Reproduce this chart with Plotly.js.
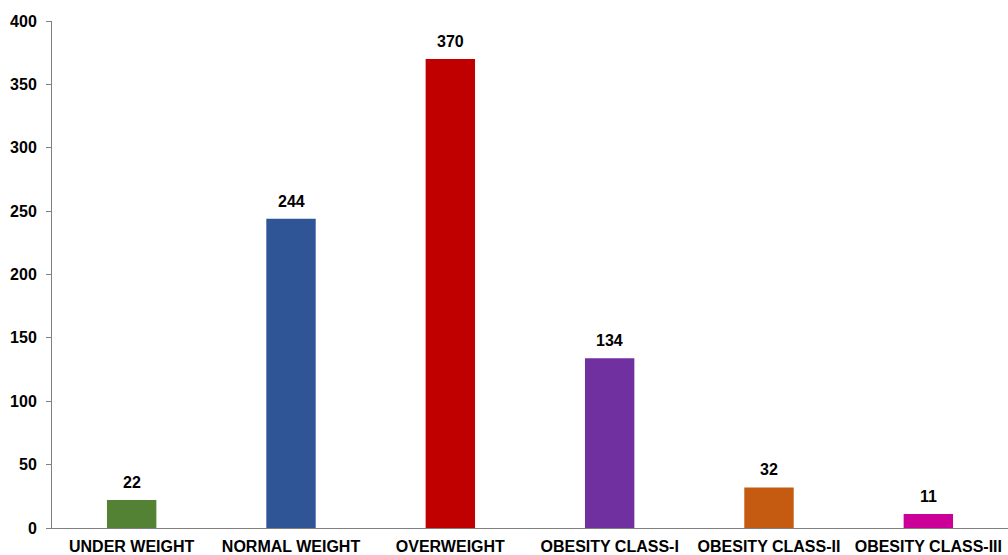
<!DOCTYPE html>
<html>
<head>
<meta charset="utf-8">
<script src="https://cdn.plot.ly/plotly-3.0.1.min.js"></script>
<style>
  html, body { margin: 0; padding: 0; background: #fff; }
  #chart { width: 1008px; height: 555px; }
</style>
</head>
<body>
<div id="chart"></div>
<script>
// BMI category counts
const categories = ["UNDER WEIGHT", "NORMAL WEIGHT", "OVERWEIGHT", "OBESITY CLASS-I", "OBESITY CLASS-II", "OBESITY CLASS-III"];
const counts = [22, 244, 370, 134, 32, 11];
const barColors = ["#548235", "#2F5597", "#C00000", "#7030A0", "#C55A11", "#CC0099"];
const yTicks = [0, 50, 100, 150, 200, 250, 300, 350, 400];

const font = { family: "Liberation Sans, Arial, sans-serif", size: 16, color: "#000", weight: "bold" };

const trace = {
  type: "bar",
  x: categories,
  y: counts,
  marker: { color: barColors },
  hoverinfo: "x+y"
};

// value labels sit just above each bar
const annotations = categories.map((c, i) => ({
  x: c,
  y: counts[i],
  text: String(counts[i]),
  showarrow: false,
  yanchor: "bottom",
  yshift: 7,
  font: font
}));

const layout = {
  width: 1008,
  height: 555,
  margin: { l: 52, r: 0, t: 21, b: 27 },
  paper_bgcolor: "#fff",
  plot_bgcolor: "#fff",
  bargap: 0.69,
  showlegend: false,
  font: font,
  xaxis: {
    type: "category",
    showline: true,
    linecolor: "#808080",
    linewidth: 1,
    ticks: "",
    showgrid: false,
    zeroline: false,
    tickfont: font,
    ticklabelstandoff: 4
  },
  yaxis: {
    range: [0, 400],
    tickvals: yTicks,
    showline: true,
    linecolor: "#808080",
    linewidth: 1,
    ticks: "outside",
    ticklen: 5,
    tickcolor: "#808080",
    showgrid: false,
    zeroline: false,
    tickfont: font,
    ticklabelstandoff: 6
  },
  annotations: annotations
};

Plotly.newPlot("chart", [trace], layout, { displayModeBar: false, staticPlot: true });
</script>
</body>
</html>
